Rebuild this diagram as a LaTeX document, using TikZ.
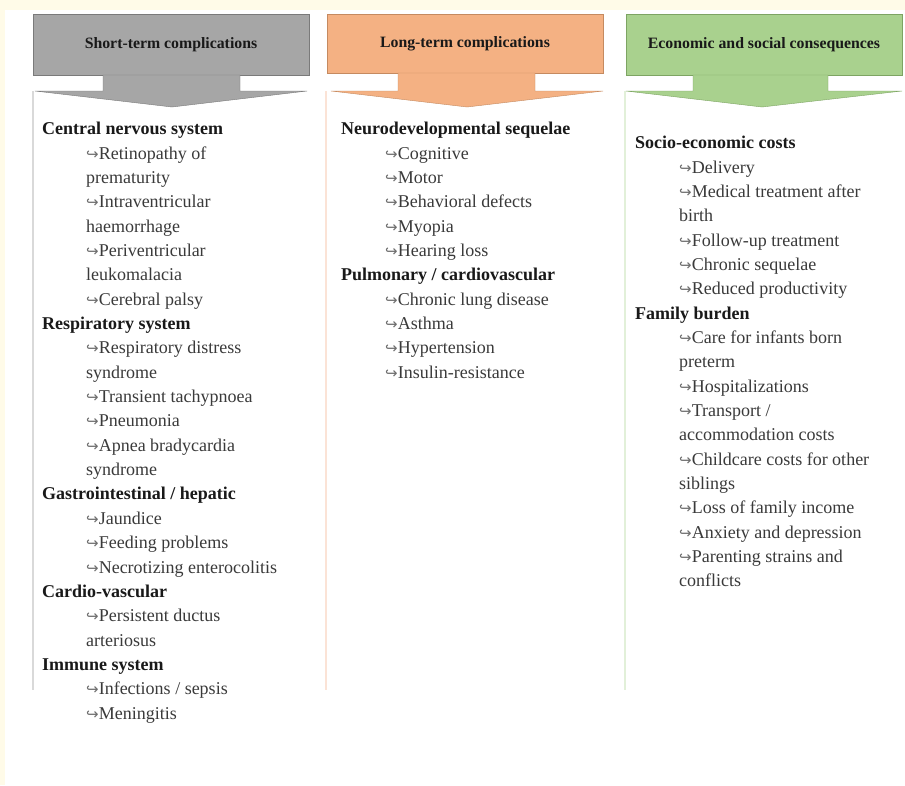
\documentclass[tikz,border=0pt]{standalone}
\usepackage{fontspec}
\setmainfont{Liberation Serif}
\newfontfamily\hookfont{DejaVu Sans}
\usepackage{tikz}

\definecolor{cream}{HTML}{FFFBE8}
\definecolor{shortfill}{HTML}{A6A6A6}
\definecolor{shortedge}{HTML}{7A7A7A}
\definecolor{shortline}{HTML}{D9D9D9}
\definecolor{longfill}{HTML}{F4B183}
\definecolor{longedge}{HTML}{C58A60}
\definecolor{longline}{HTML}{FBE3D6}
\definecolor{econfill}{HTML}{A9D18E}
\definecolor{econedge}{HTML}{7DA463}
\definecolor{econline}{HTML}{E2F0D9}
\definecolor{itemgray}{HTML}{3A3A3A}
\definecolor{hookgray}{HTML}{6E6E6E}

\newcommand{\groupline}[1]{{\bfseries\color{black!90}#1}}
\newcommand{\itemline}[1]{\hspace*{44pt}{\hookfont\fontsize{15}{15}\selectfont\color{hookgray}\char"21AA}{\color{itemgray}#1}}
\newcommand{\moreline}[1]{\hspace*{44pt}{\color{itemgray}#1}}

\tikzset{
  headtext/.style={font=\bfseries\fontsize{15.8}{15.8}\selectfont, text=black!90, inner sep=0pt},
  coltext/.style={anchor=north west, align=left, inner sep=0pt,
    font=\fontsize{18}{24.35}\selectfont}
}

\begin{document}
\begin{tikzpicture}[x=1pt,y=-1pt]
      \useasboundingbox (0,0) rectangle (905,785);
      \fill [white] (0,0) rectangle (905,785);
      \fill [cream] (0,0) rectangle (905,10);
      \fill [cream] (0,0) rectangle (5,785);
      % short-term
      \draw [shortline, line width=1.5pt] (33,91) -- (33,690);
      \draw [fill=shortfill, draw=shortedge] (33,14) rectangle (309,75);
      \node [headtext] (shorthead) at (171,45) {Short-term complications};
      \draw [fill=shortfill, draw=shortedge] (103,75) -- (240,75) -- (240,91) -- (307,91)
        -- (172,107) -- (35,91) -- (103,91) -- cycle;
      \node [coltext] (shorttext) at (42,122) {%
        \groupline{Central nervous system}\\
        \itemline{Retinopathy of}\\
        \moreline{prematurity}\\
        \itemline{Intraventricular}\\
        \moreline{haemorrhage}\\
        \itemline{Periventricular}\\
        \moreline{leukomalacia}\\
        \itemline{Cerebral palsy}\\
        \groupline{Respiratory system}\\
        \itemline{Respiratory distress}\\
        \moreline{syndrome}\\
        \itemline{Transient tachypnoea}\\
        \itemline{Pneumonia}\\
        \itemline{Apnea bradycardia}\\
        \moreline{syndrome}\\
        \groupline{Gastrointestinal / hepatic}\\
        \itemline{Jaundice}\\
        \itemline{Feeding problems}\\
        \itemline{Necrotizing enterocolitis}\\
        \groupline{Cardio-vascular}\\
        \itemline{Persistent ductus}\\
        \moreline{arteriosus}\\
        \groupline{Immune system}\\
        \itemline{Infections / sepsis}\\
        \itemline{Meningitis}};
      % long-term
      \draw [longline, line width=1.5pt] (326,91) -- (326,690);
      \draw [fill=longfill, draw=longedge] (327,14) rectangle (603,73);
      \node [headtext] (longhead) at (465,44) {Long-term complications};
      \draw [fill=longfill, draw=longedge] (398,73) -- (535,73) -- (535,91) -- (603,91)
        -- (467,107) -- (331,91) -- (398,91) -- cycle;
      \node [coltext] (longtext) at (341,122) {%
        \groupline{Neurodevelopmental sequelae}\\
        \itemline{Cognitive}\\
        \itemline{Motor}\\
        \itemline{Behavioral defects}\\
        \itemline{Myopia}\\
        \itemline{Hearing loss}\\
        \groupline{Pulmonary / cardiovascular}\\
        \itemline{Chronic lung disease}\\
        \itemline{Asthma}\\
        \itemline{Hypertension}\\
        \itemline{Insulin-resistance}};
      % economic and social
      \draw [econline, line width=1.5pt] (625,91) -- (625,690);
      \draw [fill=econfill, draw=econedge] (626,14) rectangle (902,75);
      \node [headtext] (econhead) at (764,45) {Economic and social consequences};
      \draw [fill=econfill, draw=econedge] (693,75) -- (828,75) -- (828,91) -- (902,91)
        -- (762,107) -- (626,91) -- (693,91) -- cycle;
      \node [coltext] (econtext) at (635,136) {%
        \groupline{Socio-economic costs}\\
        \itemline{Delivery}\\
        \itemline{Medical treatment after}\\
        \moreline{birth}\\
        \itemline{Follow-up treatment}\\
        \itemline{Chronic sequelae}\\
        \itemline{Reduced productivity}\\
        \groupline{Family burden}\\
        \itemline{Care for infants born}\\
        \moreline{preterm}\\
        \itemline{Hospitalizations}\\
        \itemline{Transport /}\\
        \moreline{accommodation costs}\\
        \itemline{Childcare costs for other}\\
        \moreline{siblings}\\
        \itemline{Loss of family income}\\
        \itemline{Anxiety and depression}\\
        \itemline{Parenting strains and}\\
        \moreline{conflicts}};
    \end{tikzpicture}
\end{document}
